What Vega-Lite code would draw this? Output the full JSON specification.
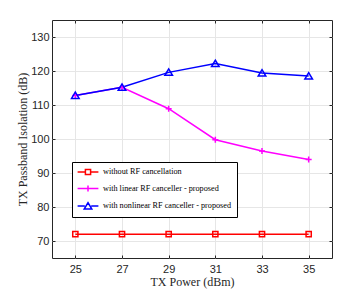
{
  "$schema": "https://vega.github.io/schema/vega-lite/v6.json",
  "width": 280,
  "height": 238,
  "autosize": "none",
  "padding": {"left": 52, "top": 20, "right": 32, "bottom": 43},
  "background": "white",
  "config": {
    "view": {"stroke": "#262626", "strokeWidth": 1},
    "axis": {
      "labelFont": "Liberation Sans",
      "labelFontSize": 11,
      "labelColor": "#262626",
      "titleFont": "Liberation Serif",
      "titleFontSize": 12,
      "titleFontWeight": "normal",
      "titleColor": "#262626",
      "gridColor": "#e6e6e6",
      "gridWidth": 1,
      "domain": false,
      "tickColor": "#262626",
      "tickSize": -3
    }
  },
  "data": {
    "values": [
      {"p": 25, "v": 72, "s": "without RF cancellation"},
      {"p": 27, "v": 72, "s": "without RF cancellation"},
      {"p": 29, "v": 72, "s": "without RF cancellation"},
      {"p": 31, "v": 72, "s": "without RF cancellation"},
      {"p": 33, "v": 72, "s": "without RF cancellation"},
      {"p": 35, "v": 72, "s": "without RF cancellation"},
      {"p": 25, "v": 112.8, "s": "with linear RF canceller - proposed"},
      {"p": 27, "v": 115.2, "s": "with linear RF canceller - proposed"},
      {"p": 29, "v": 108.9, "s": "with linear RF canceller - proposed"},
      {"p": 31, "v": 99.8, "s": "with linear RF canceller - proposed"},
      {"p": 33, "v": 96.5, "s": "with linear RF canceller - proposed"},
      {"p": 35, "v": 94.0, "s": "with linear RF canceller - proposed"},
      {"p": 25, "v": 112.8, "s": "with nonlinear RF canceller - proposed"},
      {"p": 27, "v": 115.2, "s": "with nonlinear RF canceller - proposed"},
      {"p": 29, "v": 119.6, "s": "with nonlinear RF canceller - proposed"},
      {"p": 31, "v": 122.2, "s": "with nonlinear RF canceller - proposed"},
      {"p": 33, "v": 119.4, "s": "with nonlinear RF canceller - proposed"},
      {"p": 35, "v": 118.5, "s": "with nonlinear RF canceller - proposed"}
    ]
  },
  "layer": [
    {
      "mark": {"type": "line", "strokeWidth": 1.5},
      "encoding": {
        "x": {
          "field": "p", "type": "quantitative",
          "scale": {"domain": [24, 36], "nice": false, "zero": false},
          "axis": {"values": [25, 27, 29, 31, 33, 35], "title": "TX Power (dBm)", "labelPadding": 8, "titlePadding": 2}
        },
        "y": {
          "field": "v", "type": "quantitative",
          "scale": {"domain": [65, 135], "nice": false, "zero": false},
          "axis": {"values": [70, 80, 90, 100, 110, 120, 130], "title": "TX Passband Isolation (dB)", "labelPadding": 6, "titlePadding": 1}
        },
        "color": {
          "field": "s", "type": "nominal", "legend": null,
          "scale": {
            "domain": ["without RF cancellation", "with linear RF canceller - proposed", "with nonlinear RF canceller - proposed"],
            "range": ["#ff0000", "#ff00ff", "#0000ff"]
          }
        }
      }
    },
    {
      "mark": {"type": "point", "filled": false, "strokeWidth": 1.5, "size": 64, "opacity": 1},
      "encoding": {
        "x": {"field": "p", "type": "quantitative", "axis": {"orient": "top", "labels": false, "grid": false, "title": null, "values": [25, 27, 29, 31, 33, 35]}},
        "y": {"field": "v", "type": "quantitative", "axis": {"orient": "right", "labels": false, "grid": false, "title": null, "values": [70, 80, 90, 100, 110, 120, 130]}},
        "color": {
          "field": "s", "type": "nominal", "legend": null,
          "scale": {
            "domain": ["without RF cancellation", "with linear RF canceller - proposed", "with nonlinear RF canceller - proposed"],
            "range": ["#ff0000", "#ff00ff", "#0000ff"]
          }
        },
        "shape": {
          "field": "s", "type": "nominal", "legend": null,
          "scale": {
            "domain": ["without RF cancellation", "with linear RF canceller - proposed", "with nonlinear RF canceller - proposed"],
            "range": ["M-0.65,-0.65H0.65V0.65H-0.65Z", "M-0.75,0H0.75M0,-0.75V0.75", "M0,-0.85L0.95,0.75H-0.95Z"]
          }
        }
      }
    },
    {
      "transform": [{"filter": "false"}],
      "mark": {"type": "point", "filled": false, "strokeWidth": 1.5, "size": 64, "opacity": 1},
      "encoding": {
        "x": {"field": "p", "type": "quantitative", "axis": null},
        "y": {"field": "v", "type": "quantitative", "axis": null},
        "color": {
          "field": "s", "type": "nominal",
          "scale": {
            "domain": ["without RF cancellation", "with linear RF canceller - proposed", "with nonlinear RF canceller - proposed"],
            "range": ["#ff0000", "#ff00ff", "#0000ff"]
          },
          "legend": {
            "title": null,
            "orient": "none",
            "legendX": 20,
            "legendY": 142,
            "fillColor": "white",
            "strokeColor": "#000000",
            "padding": 5,
            "labelFont": "Liberation Serif",
            "labelFontSize": 8.2,
            "labelColor": "#000000",
            "labelLimit": 300,
            "symbolSize": 64,
            "symbolStrokeWidth": 1.5,
            "symbolOffset": 6,
            "labelOffset": 10,
            "rowPadding": 4.5
          }
        },
        "shape": {
          "field": "s", "type": "nominal",
          "scale": {
            "domain": ["without RF cancellation", "with linear RF canceller - proposed", "with nonlinear RF canceller - proposed"],
            "range": ["M-2.6,0H-0.65M0.65,0H2.6M-0.65,-0.65H0.65V0.65H-0.65Z", "M-2.6,0H2.6M0,-0.75V0.75", "M-2.6,0H-0.8M0.8,0H2.6M0,-0.85L0.95,0.75H-0.95Z"]
          },
          "legend": {
            "title": null,
            "orient": "none",
            "legendX": 20,
            "legendY": 142,
            "fillColor": "white",
            "strokeColor": "#000000",
            "padding": 5,
            "labelFont": "Liberation Serif",
            "labelFontSize": 8.2,
            "labelColor": "#000000",
            "labelLimit": 300,
            "symbolSize": 64,
            "symbolStrokeWidth": 1.5,
            "symbolOffset": 6,
            "labelOffset": 10,
            "rowPadding": 4.5
          }
        }
      }
    }
  ],
  "resolve": {
    "scale": {"color": "independent", "shape": "independent"},
    "axis": {"x": "independent", "y": "independent"}
  }
}
